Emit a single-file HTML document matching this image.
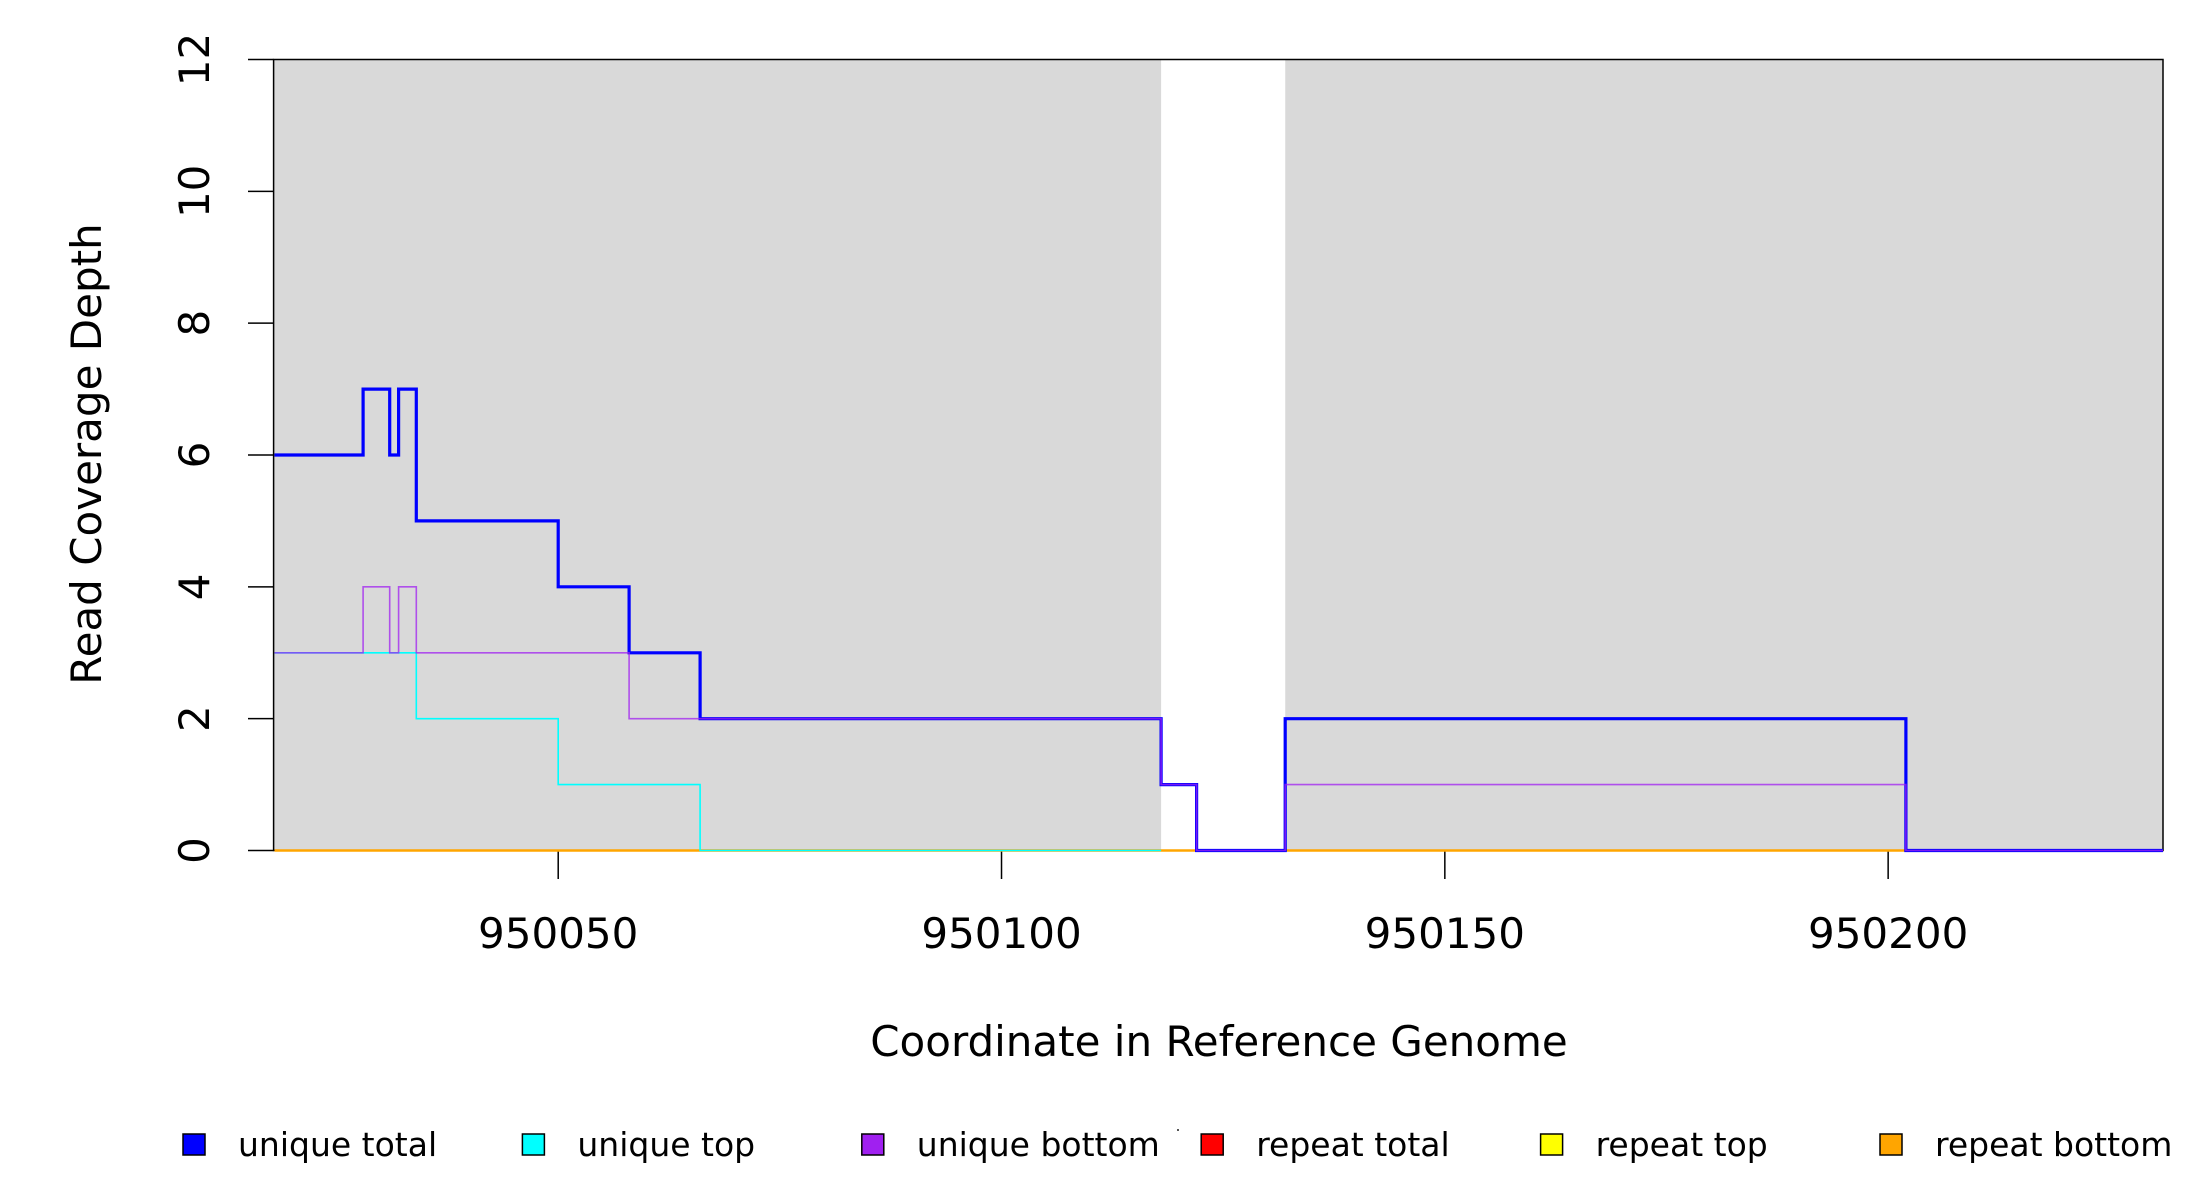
<!DOCTYPE html>
<html><head><meta charset="utf-8"><style>
html,body{margin:0;padding:0;background:#fff;}
svg{display:block;font-family:"DejaVu Sans","Liberation Sans",sans-serif;}
</style></head><body>
<svg id="chart" width="2200" height="1200" viewBox="0 0 2200 1200">
<g id="bg"></g>
<g id="axes"></g>
<g id="lines"></g>
<text x="1219" y="1056" text-anchor="middle" font-size="42">Coordinate in Reference Genome</text>
<text transform="translate(101,454) rotate(-90)" text-anchor="middle" font-size="42">Read Coverage Depth</text>
<g id="legend"></g>
<rect x="1177" y="1129" width="2" height="2" fill="#555"/>
</svg>
<script>
const xDomain = [950017.9, 950231];
const yDomain = [0, 12];
const xTicks = [950050, 950100, 950150, 950200];
const yTicks = [0, 2, 4, 6, 8, 10, 12];
const shadedRegions = [[950017.9, 950118], [950132, 950231]];
const stepX = [950018, 950028, 950031, 950032, 950034, 950050, 950058, 950066, 950118, 950122, 950132, 950202, 950231];
const uniqueTotal = [6, 7, 6, 7, 5, 4, 3, 2, 1, 0, 2, 0, 0];
const uniqueTop = [3, 3, 3, 3, 2, 1, 1, 0, null, null, null, null, null];
const uniqueBottom = [3, 4, 3, 4, 3, 3, 2, 2, 1, 0, 1, 0, 0];
const repeatTotal = [0, 0, 0, 0, 0, 0, 0, 0, 0, 0, 0, 0, 0];
const repeatTop = [0, 0, 0, 0, 0, 0, 0, 0, 0, 0, 0, 0, 0];
const repeatBottom = [0, 0, 0, 0, 0, 0, 0, 0, 0, 0, 0, 0, 0];
const legendLabels = ["unique total", "unique top", "unique bottom", "repeat total", "repeat top", "repeat bottom"];
const legendColors = ["#0000ff", "#00ffff", "#a020f0", "#ff0000", "#ffff00", "#ffa500"];

const PL = 273.6, PR = 2163, PT = 59.5, PB = 850.5;
const NS = "http://www.w3.org/2000/svg";
function sx(v){ return PL + (v - xDomain[0]) / (xDomain[1] - xDomain[0]) * (PR - PL); }
function sy(v){ return PB - (v - yDomain[0]) / (yDomain[1] - yDomain[0]) * (PB - PT); }
function mk(tag, attrs, parent){ const e = document.createElementNS(NS, tag); for (const k in attrs) e.setAttribute(k, attrs[k]); parent.appendChild(e); return e; }

const bg = document.getElementById('bg');
shadedRegions.forEach(r => {
  const e = mk('rect', {x: sx(r[0]), y: PT, width: sx(r[1]) - sx(r[0]), height: PB - PT, fill: '#d9d9d9'}, bg);
  
  
});

const lines = document.getElementById('lines');
function stepPath(vals){
  let d = '', pen = false;
  for (let i = 0; i < stepX.length - 1; i++) {
    if (vals[i] === null) { pen = false; continue; }
    const x0 = sx(stepX[i]), x1 = sx(stepX[i+1]), y = sy(vals[i]);
    d += (pen ? 'L' : 'M') + x0.toFixed(1) + ',' + y.toFixed(1) + 'L' + x1.toFixed(1) + ',' + y.toFixed(1);
    pen = true;
  }
  return d;
}
const series = [
  [repeatTotal, '#ff0000', 1.6, 1, 'line-repeat-total'],
  [repeatTop, '#ffff00', 1.6, 1, 'line-repeat-top'],
  [repeatBottom, '#ffa500', 2.4, 1, 'line-repeat-bottom'],
  [uniqueTotal, '#0000ff', 3.2, 1, 'line-unique-total'],
  [uniqueTop, '#00ffff', 1.6, 1, 'line-unique-top'],
  [uniqueBottom, '#a020f0', 1.6, 0.75, 'line-unique-bottom']
];
series.forEach(s => {
  const p = mk('path', {d: stepPath(s[0]), fill: 'none', stroke: s[1], 'stroke-width': s[2], 'stroke-opacity': s[3]}, lines);
  
  
});

const axes = document.getElementById('axes');
const box = mk('rect', {x: PL, y: PT, width: PR - PL, height: PB - PT, fill: 'none', stroke: '#000', 'stroke-width': 1.5}, axes);


yTicks.forEach(t => {
  const y = sy(t);
  const l = mk('line', {x1: 248, x2: PL, y1: y, y2: y, stroke: '#000', 'stroke-width': 1.5}, axes);
  
  
  const tx = mk('text', {transform: 'translate(209,' + y + ') rotate(-90)', 'text-anchor': 'middle', 'font-size': 42}, axes);
  tx.textContent = t;
  
  
});
xTicks.forEach(t => {
  const x = sx(t);
  const l = mk('line', {x1: x, x2: x, y1: PB, y2: 879, stroke: '#000', 'stroke-width': 1.5}, axes);
  
  
  const tx = mk('text', {x: x, y: 948, 'text-anchor': 'middle', 'font-size': 42}, axes);
  tx.textContent = t;
  
  
});

const legend = document.getElementById('legend');
legendLabels.forEach((lab, i) => {
  const bx = 183 + i * 339.4;
  const g = mk('g', {}, legend);
  
  
  const r = mk('rect', {x: bx, y: 1134, width: 22, height: 21, fill: legendColors[i], stroke: '#000', 'stroke-width': 1.5}, g);
  
  
  const t = mk('text', {x: bx + 55, y: 1156, 'font-size': 33}, g);
  t.textContent = lab;
  
  
});
</script>
</body></html>
